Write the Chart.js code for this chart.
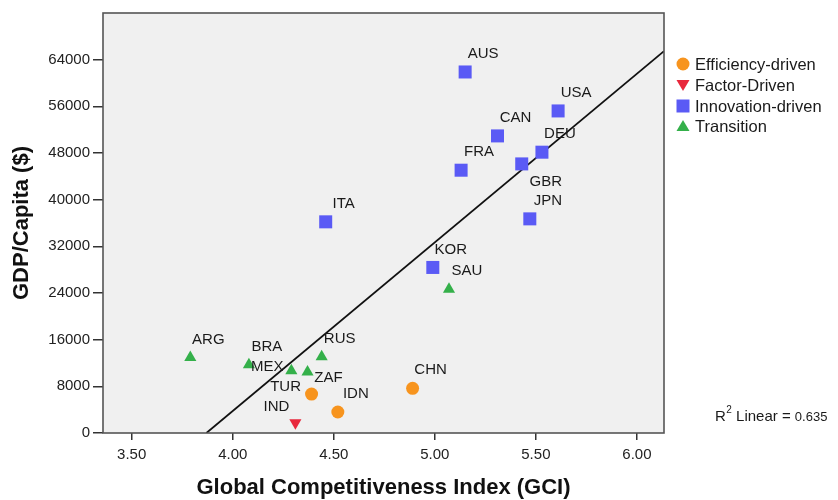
<!DOCTYPE html>
<html>
<head>
<meta charset="utf-8">
<title>GDP per capita vs GCI</title>
<script src="https://cdn.jsdelivr.net/npm/chart.js@4.4.1/dist/chart.umd.min.js"></script>
<style>
  body { margin: 0; background: #fff; }
</style>
</head>
<body>
<canvas id="myChart" width="838" height="500"></canvas>
<script>
// country codes, GCI score, GDP per capita and development stage (index into stageNames)
var countries = ['ARG', 'BRA', 'MEX', 'ZAF', 'RUS', 'TUR', 'IDN', 'CHN', 'IND', 'AUS',
                 'USA', 'CAN', 'DEU', 'GBR', 'FRA', 'JPN', 'KOR', 'SAU', 'ITA'];
var gciScores = [3.79, 4.08, 4.29, 4.37, 4.44, 4.39, 4.52, 4.89, 4.31, 5.15,
                 5.61, 5.31, 5.53, 5.43, 5.13, 5.47, 4.99, 5.07, 4.46];
var gdpPerCapita = [12950, 11700, 10680, 10440, 13080, 6680, 3600, 7660, 1750, 61890,
                    55210, 50930, 48140, 46130, 45050, 36710, 28380, 24650, 36200];
var stageOf = [3, 3, 3, 3, 3, 0, 0, 0, 1, 2,
               2, 2, 2, 2, 2, 2, 2, 3, 2];
var stageNames = ['Efficiency-driven', 'Factor-Driven', 'Innovation-driven', 'Transition'];
var xTicks = [3.5, 4.0, 4.5, 5.0, 5.5, 6.0];
var yTicks = [0, 8000, 16000, 24000, 32000, 40000, 48000, 56000, 64000];
var rSquaredText = '0.635';

var stageColors = ['#f7941e', '#e8283c', '#5a5af5', '#34b04a'];
var stageShapes = ['circle', 'triangleDown', 'rect', 'triangle'];

var FONT = '"Liberation Sans", Arial, sans-serif';
var X_MIN = 3.358, X_MAX = 6.134;

// least squares fit over all countries
function linearFit(xs, ys) {
  var n = xs.length, mx = 0, my = 0;
  for (var i = 0; i < n; i++) { mx += xs[i]; my += ys[i]; }
  mx /= n; my /= n;
  var sxy = 0, sxx = 0;
  for (var j = 0; j < n; j++) {
    sxy += (xs[j] - mx) * (ys[j] - my);
    sxx += (xs[j] - mx) * (xs[j] - mx);
  }
  var slope = sxy / sxx;
  return { slope: slope, intercept: my - slope * mx };
}
var fit = linearFit(gciScores, gdpPerCapita);
var fitStart = -fit.intercept / fit.slope;   // where the line crosses 0
var fitLine = [
  { x: fitStart, y: 0 },
  { x: X_MAX, y: fit.intercept + fit.slope * X_MAX }
];

// label offsets (px) from each marker
var labelShift = { MEX: [-24, -4], ZAF: [21, 6], TUR: [-26, -7], IND: [-19, -16], GBR: [24, 18] };

var datasets = stageNames.map(function (name, s) {
  var pts = [];
  countries.forEach(function (c, i) {
    if (stageOf[i] === s) pts.push({ x: gciScores[i], y: gdpPerCapita[i], code: c });
  });
  var shape = stageShapes[s];
  var radius = shape === 'rect' ? 9.2 : (shape === 'circle' ? 6.5 : 7);
  return {
    type: 'scatter',
    label: name,
    data: pts,
    pointStyle: shape === 'triangleDown' ? 'triangle' : shape,
    rotation: shape === 'triangleDown' ? 180 : 0,
    pointRadius: radius,
    pointHoverRadius: radius,
    backgroundColor: stageColors[s],
    borderColor: stageColors[s],
    borderWidth: 0
  };
});

datasets.push({
  type: 'line',
  label: 'fit',
  data: fitLine,
  borderColor: '#111',
  borderWidth: 1.8,
  pointRadius: 0,
  fill: false
});

function drawMarker(ctx, shape, x, y, color) {
  ctx.fillStyle = color;
  ctx.beginPath();
  if (shape === 'circle') {
    ctx.arc(x, y, 6.5, 0, Math.PI * 2);
  } else if (shape === 'rect') {
    ctx.rect(x - 6.5, y - 6.5, 13, 13);
  } else if (shape === 'triangle') {
    ctx.moveTo(x, y - 6); ctx.lineTo(x + 6.5, y + 5); ctx.lineTo(x - 6.5, y + 5);
  } else {
    ctx.moveTo(x - 6.5, y - 5); ctx.lineTo(x + 6.5, y - 5); ctx.lineTo(x, y + 6);
  }
  ctx.closePath();
  ctx.fill();
}

var plotBox = {
  id: 'plotBox',
  beforeDraw: function (chart) {
    var a = chart.chartArea, ctx = chart.ctx;
    ctx.save();
    ctx.fillStyle = '#f0f0f0';
    ctx.fillRect(a.left, a.top, a.right - a.left, a.bottom - a.top);
    ctx.restore();
  },
  afterDraw: function (chart) {
    var a = chart.chartArea, ctx = chart.ctx;
    ctx.save();
    ctx.strokeStyle = '#555';
    ctx.lineWidth = 1.6;
    ctx.strokeRect(a.left, a.top, a.right - a.left, a.bottom - a.top);

    // legend
    ctx.font = '16.5px ' + FONT;
    ctx.textBaseline = 'middle';
    ctx.textAlign = 'left';
    var ly = [64, 85, 106, 126];
    stageNames.forEach(function (name, s) {
      drawMarker(ctx, stageShapes[s], 683, ly[s], stageColors[s]);
      ctx.fillStyle = '#1a1a1a';
      ctx.fillText(name, 695, ly[s] + 1);
    });

    // R-squared note
    ctx.textBaseline = 'alphabetic';
    ctx.fillStyle = '#1a1a1a';
    var tx = 715;
    ctx.font = '15px ' + FONT;
    ctx.fillText('R', tx, 421);
    tx += ctx.measureText('R').width;
    ctx.font = '10px ' + FONT;
    ctx.fillText('2', tx + 0.5, 413);
    tx += ctx.measureText('2').width + 0.5;
    ctx.font = '15px ' + FONT;
    ctx.fillText(' Linear = ', tx, 421);
    tx += ctx.measureText(' Linear = ').width;
    ctx.font = '13px ' + FONT;
    ctx.fillText(rSquaredText, tx, 421);
    ctx.restore();
  }
};

var pointLabels = {
  id: 'pointLabels',
  afterDatasetsDraw: function (chart) {
    var ctx = chart.ctx;
    ctx.save();
    ctx.font = '15px ' + FONT;
    ctx.fillStyle = '#1a1a1a';
    ctx.textAlign = 'center';
    ctx.textBaseline = 'middle';
    chart.data.datasets.forEach(function (ds, di) {
      if (ds.type !== 'scatter') return;
      chart.getDatasetMeta(di).data.forEach(function (el, k) {
        var code = ds.data[k].code;
        var sh = labelShift[code] || [18, -18];
        ctx.fillText(code, el.x + sh[0], el.y + sh[1]);
      });
    });
    ctx.restore();
  }
};

var ctx = document.getElementById('myChart').getContext('2d');
var myChart = new Chart(ctx, {
  data: { datasets: datasets },
  options: {
    responsive: false,
    animation: false,
    layout: { padding: { top: 13, right: 174, left: 0, bottom: 0 } },
    plugins: { legend: { display: false }, tooltip: { enabled: false } },
    scales: {
      x: {
        type: 'linear',
        min: X_MIN,
        max: X_MAX,
        afterBuildTicks: function (s) { s.ticks = xTicks.map(function (v) { return { value: v }; }); },
        afterFit: function (s) { s.height = 67; },
        grid: { drawOnChartArea: false, drawTicks: true, tickLength: 7, color: '#333', lineWidth: 1.5 },
        border: { display: false },
        ticks: {
          autoSkip: false, maxRotation: 0, padding: 6,
          color: '#222', font: { family: FONT, size: 15 },
          callback: function (v) { return Number(v).toFixed(2); }
        },
        title: {
          display: true, text: 'Global Competitiveness Index (GCI)',
          color: '#111', font: { family: FONT, size: 22, weight: 'bold', lineHeight: 1.0 },
          padding: { top: 0, bottom: 1 }
        }
      },
      y: {
        type: 'linear',
        min: 0,
        max: 72000,
        afterBuildTicks: function (s) { s.ticks = yTicks.map(function (v) { return { value: v }; }); },
        afterFit: function (s) { s.width = 103; },
        grid: { drawOnChartArea: false, drawTicks: true, tickLength: 10, color: '#333', lineWidth: 1.5 },
        border: { display: false },
        ticks: {
          autoSkip: false, padding: 3,
          color: '#222', font: { family: FONT, size: 15 },
          callback: function (v) { return String(v); }
        },
        title: {
          display: true, text: 'GDP/Capita ($)',
          color: '#111', font: { family: FONT, size: 22, weight: 'bold', lineHeight: 1.0 },
          padding: { top: 11, bottom: 0 }
        }
      }
    }
  },
  plugins: [plotBox, pointLabels]
});
</script>
</body>
</html>
